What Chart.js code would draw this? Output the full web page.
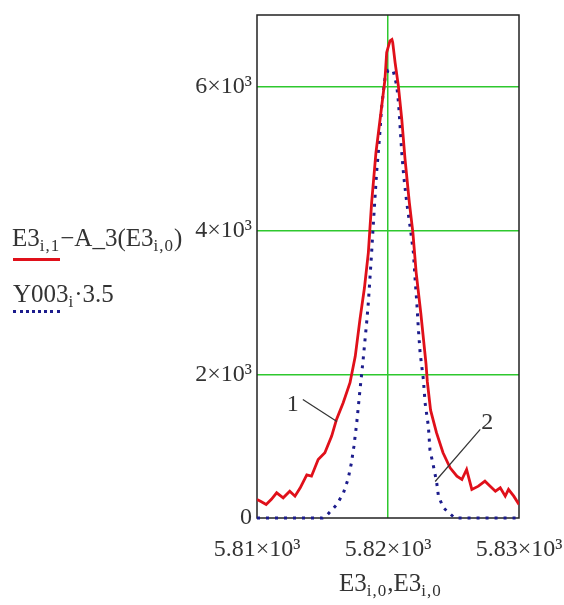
<!DOCTYPE html>
<html>
<head>
<meta charset="utf-8">
<script src="https://cdn.jsdelivr.net/npm/chart.js@4.4.0/dist/chart.umd.min.js"></script>
<style>
  body { margin: 0; background: #fff; }
  #wrap { position: relative; width: 564px; height: 605px; font-family: "Liberation Serif", serif; color: #333; }
  #chart { position: absolute; left: 0; top: 0; }
  .txt { position: absolute; font-size: 25px; white-space: nowrap; line-height: 1; }
  .txt sub { font-size: 17px; vertical-align: -5px; letter-spacing: 1px; }
  .sample { position: absolute; height: 0; }
</style>
</head>
<body>
<div id="wrap">
  <canvas id="chart" width="564" height="605"></canvas>
  <div class="txt" style="left:12px; top:225px;">E3<sub>i,1</sub>&minus;A_3(E3<sub>i,0</sub>)</div>
  <div class="sample" style="left:13px; top:258px; width:47px; border-top:3px solid #e0101a;"></div>
  <div class="txt" style="left:13px; top:281px;">Y003<sub>i</sub>&middot;3.5</div>
  <div class="sample" style="left:13px; top:310px; width:47px; border-top:3px dotted #1c1c8c;"></div>
  <div class="txt" style="left:339px; top:570px;">E3<sub>i,0</sub>,E3<sub>i,0</sub></div>
</div>
<script>
// measured curve (red), E3 minus baseline
const redX = [5810.0, 5810.3, 5810.7, 5811.1, 5811.5, 5812.0, 5812.5, 5812.9, 5813.3, 5813.8,
  5814.16, 5814.67, 5815.18, 5815.7, 5816.07, 5816.58, 5817.1, 5817.5, 5817.86, 5818.2,
  5818.5, 5818.75, 5819.08, 5819.46, 5819.77, 5819.9, 5820.15, 5820.3, 5820.36, 5820.54,
  5820.79, 5821.05, 5821.3, 5821.63, 5821.9, 5822.15, 5822.5, 5822.9, 5823.0, 5823.25,
  5823.7, 5824.2, 5824.74, 5825.26, 5825.64, 5826.0, 5826.4, 5826.9, 5827.4, 5827.8,
  5828.2, 5828.57, 5828.95, 5829.2, 5829.6, 5830.0];
const redY = [258, 230, 188, 260, 351, 281, 373, 304, 420, 600,
  582, 815, 908, 1140, 1372, 1604, 1883, 2250, 2765, 3200,
  3694, 4390, 5086, 5643, 6107, 6479, 6641, 6660, 6618, 6340,
  6014, 5550, 4993, 4390, 3972, 3415, 2858, 2150, 1900, 1500,
  1187, 908, 699, 582, 536, 675, 397, 443, 513, 443,
  373, 420, 304, 397, 304, 188];

// model curve (blue dotted), Y003 * 3.5
const blueX = [5810.0, 5815.0, 5815.4, 5816.1, 5816.6, 5816.95, 5817.2, 5817.4, 5817.6, 5817.86,
  5818.1, 5818.37, 5818.5, 5818.6, 5818.75, 5818.87, 5819.0, 5819.13, 5819.26, 5819.4,
  5819.5, 5819.64, 5819.77, 5820.0, 5820.25, 5820.4, 5820.67, 5820.8, 5820.92, 5821.05,
  5821.2, 5821.43, 5821.68, 5821.94, 5822.07, 5822.2, 5822.32, 5822.45, 5822.7, 5822.83,
  5823.08, 5823.2, 5823.47, 5823.72, 5823.85, 5824.23, 5825.1, 5830.0];
const blueY = [0, 0, 50, 190, 350, 540, 760, 1000, 1300, 1780,
  2200, 2719, 3000, 3276, 3694, 4064, 4436, 4808, 5086, 5411,
  5690, 5922, 6120, 6230, 6240, 6223, 6014, 5783, 5457, 5086,
  4760, 4390, 4064, 3694, 3322, 2997, 2625, 2301, 1929, 1604,
  1279, 954, 721, 490, 304, 142, 0, 0];

const xTicks = [5810, 5820, 5830];
const xTickLabels = ['5.81×10³', '5.82×10³', '5.83×10³'];
const yTicks = [0, 2000, 4000, 6000];
const yTickLabels = ['0', '2×10³', '4×10³', '6×10³'];

// curve labels with leader lines: text position, line start, line end (data units)
const notes = [
  { text: '1', at: [5812.73, 1581], from: [5813.5, 1650], to: [5816.1, 1344] },
  { text: '2', at: [5827.58, 1330], from: [5827.04, 1233], to: [5823.6, 508] }
];

const green = '#2ec82e';

const frame = {
  id: 'frame',
  beforeDatasetsDraw(chart) {
    const { ctx, chartArea: a } = chart;
    ctx.save();
    ctx.strokeStyle = '#222';
    ctx.lineWidth = 1.5;
    ctx.strokeRect(a.left, a.top, a.right - a.left, a.bottom - a.top);
    ctx.restore();
  },
  afterDatasetsDraw(chart) {
    const { ctx, scales: { x, y } } = chart;
    ctx.save();
    ctx.strokeStyle = '#333';
    ctx.lineWidth = 1.2;
    ctx.fillStyle = '#333';
    ctx.font = '24px "Liberation Serif"';
    ctx.textAlign = 'center';
    ctx.textBaseline = 'middle';
    notes.forEach(n => {
      ctx.beginPath();
      ctx.moveTo(x.getPixelForValue(n.from[0]), y.getPixelForValue(n.from[1]));
      ctx.lineTo(x.getPixelForValue(n.to[0]), y.getPixelForValue(n.to[1]));
      ctx.stroke();
      ctx.fillText(n.text, x.getPixelForValue(n.at[0]), y.getPixelForValue(n.at[1]));
    });
    ctx.restore();
  }
};

new Chart(document.getElementById('chart'), {
  type: 'scatter',
  data: {
    datasets: [
      {
        data: redX.map((v, i) => ({ x: v, y: redY[i] })),
        showLine: true,
        borderColor: '#e0101a',
        borderWidth: 2.8,
        pointRadius: 0,
        tension: 0
      },
      {
        data: blueX.map((v, i) => ({ x: v, y: blueY[i] })),
        showLine: true,
        borderColor: '#1c1c8c',
        borderWidth: 3,
        borderDash: [3, 6],
        borderCapStyle: 'butt',
        pointRadius: 0,
        tension: 0,
        clip: 4
      }
    ]
  },
  options: {
    responsive: false,
    animation: false,
    devicePixelRatio: 1,
    layout: { padding: { left: 0, top: 15, right: 45, bottom: 0 } },
    plugins: { legend: { display: false }, tooltip: { enabled: false } },
    scales: {
      x: {
        type: 'linear',
        min: 5810,
        max: 5830,
        afterBuildTicks: s => { s.ticks = xTicks.map(v => ({ value: v })); },
        afterFit: s => { s.height = 87; s.paddingLeft = 0; s.paddingRight = 0; },
        border: { display: false },
        grid: {
          drawTicks: false,
          lineWidth: 1.5,
          color: c => (c.tick && c.tick.value === 5820 ? green : 'rgba(0,0,0,0)')
        },
        ticks: {
          padding: 17,
          maxRotation: 0,
          color: '#333',
          font: { family: 'Liberation Serif', size: 24 },
          callback: v => xTickLabels[xTicks.indexOf(v)]
        }
      },
      y: {
        min: 0,
        max: 7000,
        afterBuildTicks: s => { s.ticks = yTicks.map(v => ({ value: v })); },
        afterFit: s => { s.width = 257; s.paddingTop = 0; s.paddingBottom = 0; },
        border: { display: false },
        grid: {
          drawTicks: false,
          lineWidth: 1.5,
          color: c => (c.tick && c.tick.value > 0 ? green : 'rgba(0,0,0,0)')
        },
        ticks: {
          padding: 5,
          color: '#333',
          font: { family: 'Liberation Serif', size: 24 },
          callback: v => yTickLabels[yTicks.indexOf(v)]
        }
      }
    }
  },
  plugins: [frame]
});
</script>
</body>
</html>
